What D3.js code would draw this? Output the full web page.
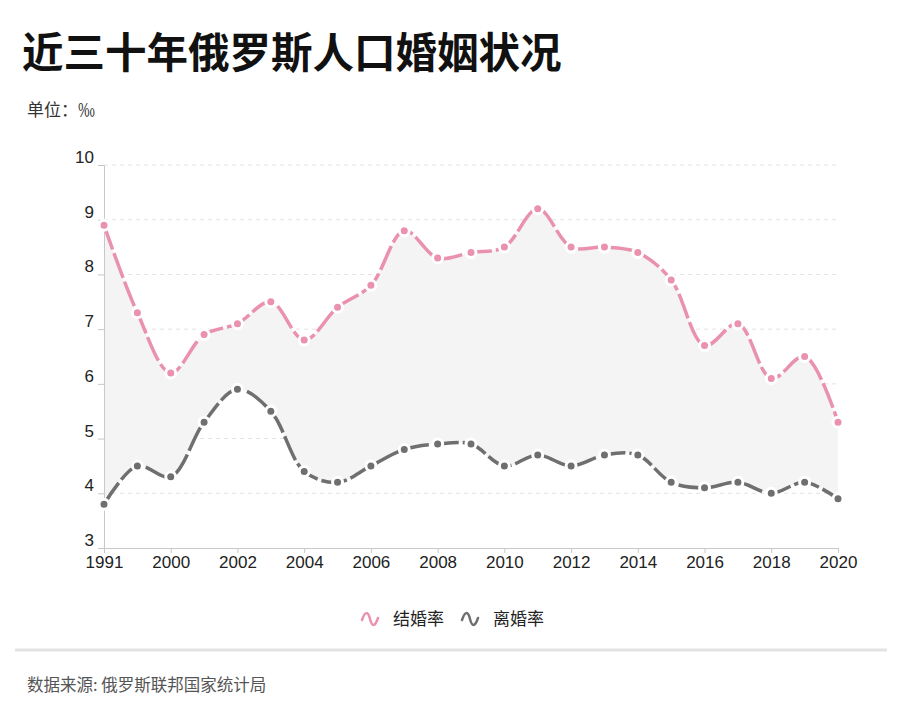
<!DOCTYPE html>
<html><head><meta charset="utf-8">
<script src="https://cdn.jsdelivr.net/npm/d3@7"></script>
<style>body{margin:0;background:#fff;} svg{display:block;font-family:"Liberation Sans","Noto Sans CJK SC",sans-serif;}</style>
</head><body>
<svg id="c" width="913" height="725"></svg>
<script>
const years = ["1991","1995","2000","2001","2002","2003","2004","2005","2006","2007","2008","2009","2010","2011","2012","2013","2014","2015","2016","2017","2018","2019","2020"];
const marriage = [8.9,7.3,6.2,6.9,7.1,7.5,6.8,7.4,7.8,8.8,8.3,8.4,8.5,9.2,8.5,8.5,8.4,7.9,6.7,7.1,6.1,6.5,5.3];
const divorce = [3.8,4.5,4.3,5.3,5.9,5.5,4.4,4.2,4.5,4.8,4.9,4.9,4.5,4.7,4.5,4.7,4.7,4.2,4.1,4.2,4.0,4.2,3.9];
const xLabels = ["1991","2000","2002","2004","2006","2008","2010","2012","2014","2016","2018","2020"];
const yTicks = [3,4,5,6,7,8,9,10];
const seriesNames = ["结婚率","离婚率"];
const colors = ["#ea91ad","#6f6f6f"];

const svg = d3.select("#c");
const cjk = '"Noto Sans CJK SC","Liberation Sans",sans-serif';

svg.append("text").attr("x",22).attr("y",68).attr("font-size",41.5).attr("font-weight","bold")
  .attr("font-family",cjk).attr("fill","#111").text("近三十年俄罗斯人口婚姻状况");
svg.append("text").attr("x",27).attr("y",116).attr("font-size",17).attr("font-family",cjk)
  .attr("fill","#333").text("单位：‰");

const x = d3.scalePoint().domain(years).range([104,838]);
const y = d3.scaleLinear().domain([3,10]).range([548,165]);

// grid
svg.append("g").selectAll("line").data(yTicks.filter(d=>d>3)).join("line")
  .attr("x1",104).attr("x2",838).attr("y1",d=>y(d)).attr("y2",d=>y(d))
  .attr("stroke","#e2e2e2").attr("stroke-dasharray","4,4");

// area between
const data = years.map((yr,i)=>({yr,m:marriage[i],d:divorce[i]}));
const curve = d3.curveCatmullRom.alpha(0.5);
svg.append("path").datum(data)
  .attr("d", d3.area().x(d=>x(d.yr)).y0(d=>y(d.d)).y1(d=>y(d.m)).curve(curve))
  .attr("fill","#f4f4f4");

// axes
const yAxis = svg.append("g").attr("transform","translate(104,0)")
  .call(d3.axisLeft(y).tickValues(yTicks).tickFormat(d3.format("d")).tickSize(6).tickPadding(4));
yAxis.select(".domain").attr("stroke","#c8c8c8");
yAxis.selectAll(".tick line").attr("stroke","#c8c8c8");
yAxis.selectAll("text").attr("font-size",17).attr("fill","#222").attr("font-family","Liberation Sans").attr("dy","-0.15em");

const xAxis = svg.append("g").attr("transform","translate(0,548)")
  .call(d3.axisBottom(x).tickValues(xLabels).tickSize(5).tickPadding(3));
xAxis.select(".domain").attr("stroke","#c8c8c8");
xAxis.selectAll(".tick line").attr("stroke","#c8c8c8");
xAxis.selectAll("text").attr("font-size",17).attr("fill","#222").attr("font-family","Liberation Sans");

// lines
[marriage, divorce].forEach((vals,si)=>{
  const pts = years.map((yr,i)=>({yr,v:vals[i]}));
  svg.append("path").datum(pts)
    .attr("d", d3.line().x(d=>x(d.yr)).y(d=>y(d.v)).curve(curve))
    .attr("fill","none").attr("stroke",colors[si]).attr("stroke-width",3.5)
    .attr("stroke-dasharray","26,4").attr("stroke-linecap","butt");
  svg.append("g").selectAll("circle").data(pts).join("circle")
    .attr("cx",d=>x(d.yr)).attr("cy",d=>y(d.v)).attr("r",5)
    .attr("fill",colors[si]).attr("stroke","#fff").attr("stroke-width",3);
});

// legend
const legX = [362, 462];
seriesNames.forEach((n,i)=>{
  const g = svg.append("g").attr("transform",`translate(${legX[i]},619)`);
  g.append("path").attr("d","M0,1 C3,-8 6,-8 8,0 C10,8 13,8 16,-1")
    .attr("fill","none").attr("stroke",colors[i]).attr("stroke-width",2.5).attr("stroke-linecap","round");
  g.append("text").attr("x",31).attr("y",6).attr("font-size",17).attr("font-family",cjk)
    .attr("fill","#222").text(n);
});

svg.append("line").attr("x1",15).attr("x2",887).attr("y1",650).attr("y2",650)
  .attr("stroke","#e3e3e3").attr("stroke-width",3);
svg.append("text").attr("x",27).attr("y",691).attr("font-size",16.5).attr("font-family",cjk)
  .attr("fill","#555").text("数据来源: 俄罗斯联邦国家统计局");
</script>
</body></html>
